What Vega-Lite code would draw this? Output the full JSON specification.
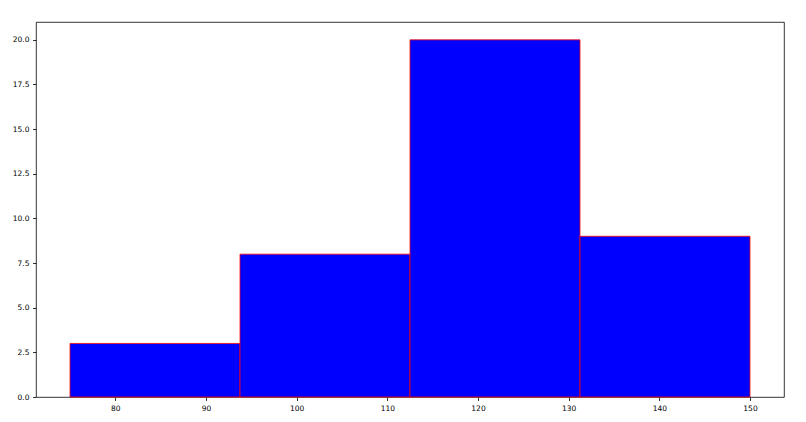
{
  "$schema": "https://vega.github.io/schema/vega-lite/v6.json",
  "width": 748,
  "height": 375,
  "autosize": {"type": "none"},
  "padding": {"left": 36, "top": 22, "right": 22, "bottom": 25},
  "background": "white",
  "config": {
    "view": {"stroke": "#000000", "strokeWidth": 0.8},
    "axis": {"grid": false, "domain": false, "tickColor": "#000000", "tickSize": 3.5, "tickWidth": 0.8, "labelFont": "DejaVu Sans", "labelFontSize": 7.5, "labelColor": "#000000", "labelPadding": 3.5, "title": null}
  },
  "data": {"values": [
    {"bin_start": 75, "bin_end": 93.75, "count": 3},
    {"bin_start": 93.75, "bin_end": 112.5, "count": 8},
    {"bin_start": 112.5, "bin_end": 131.25, "count": 20},
    {"bin_start": 131.25, "bin_end": 150, "count": 9}
  ]},
  "mark": {"type": "rect", "fill": "#0000ff", "stroke": "#ff0000", "strokeWidth": 0.8},
  "encoding": {
    "x": {"field": "bin_start", "type": "quantitative", "scale": {"domain": [71.25, 153.75], "nice": false, "zero": false}, "axis": {"values": [80, 90, 100, 110, 120, 130, 140, 150], "format": "d"}},
    "x2": {"field": "bin_end"},
    "y": {"field": "count", "type": "quantitative", "scale": {"domain": [0, 21], "nice": false}, "axis": {"values": [0, 2.5, 5, 7.5, 10, 12.5, 15, 17.5, 20], "format": ".1f"}},
    "y2": {"datum": 0}
  }
}
